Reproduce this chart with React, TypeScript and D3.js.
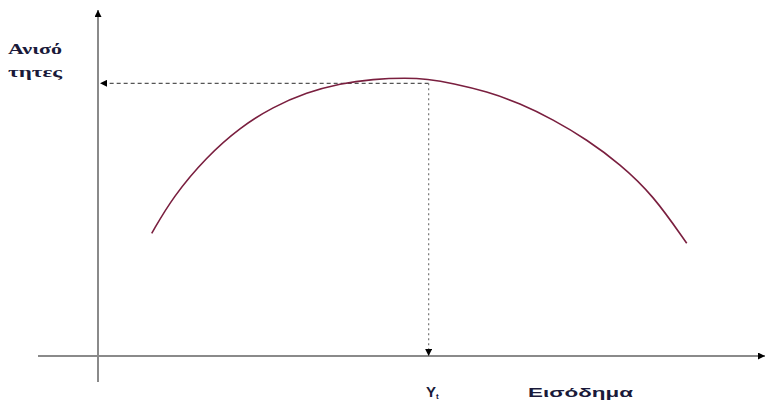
import React from "react";
import * as d3 from "d3";

const incomeValues = [8.14, 11.36, 16.47, 21.52, 26.52, 31.62, 36.67, 41.67, 46.77, 49.8, 53.79, 58.89, 63.94, 68.94, 74.05, 79.09, 84.09, 89.2];
const inequalityValues = [35.46, 46.04, 57.6, 66.07, 72.0, 76.18, 78.79, 80.03, 80.4, 80.06, 78.82, 76.45, 73.03, 68.35, 62.57, 55.49, 46.53, 32.57];
const peakIncome = [50.1];
const peakInequality = [78.8];
const yLabelLines = ["Ανισό", "τητες"];
const xLabel = "Εισόδημα";
const peakLabel = ["Y", "t"];

const W = 765;
const H = 409;

export default function App() {
  const x = d3.scaleLinear().domain([0, 100]).range([98, 758]);
  const y = d3.scaleLinear().domain([0, 100]).range([356, 10]);

  const pts: [number, number][] = incomeValues.map((v, i) => [v, inequalityValues[i]]);
  const line = d3
    .line<[number, number]>()
    .x((d) => x(d[0]))
    .y((d) => y(d[1]))
    .curve(d3.curveBasis);

  const px = x(peakIncome[0]);
  const py = y(peakInequality[0]);
  const x0 = x(0);
  const y0 = y(0);
  const serif = "'Liberation Serif', 'DejaVu Serif', serif";
  const sans = "'Liberation Sans', Arial, sans-serif";

  return (
    <svg
      width={W}
      height={H}
      style={{ position: "absolute", left: 0, top: 0, background: "#fff" }}
    >
      <defs>
        <marker id="arrHead" viewBox="0 0 10 10" refX="10" refY="5" markerWidth="7" markerHeight="7" orient="auto" markerUnits="userSpaceOnUse">
          <path d="M0,0 L10,5 L0,10 Z" fill="#000" />
        </marker>
      </defs>

      {/* axes */}
      <line x1={x0} y1={382} x2={x0} y2={10} stroke="#8a8a8a" strokeWidth={2} markerEnd="url(#arrHead)" />
      <line x1={38} y1={y0} x2={765} y2={y0} stroke="#8a8a8a" strokeWidth={2} markerEnd="url(#arrHead)" />

      {/* dashed guides */}
      <line x1={px} y1={py} x2={x0 + 2} y2={py} stroke="#555" strokeWidth={1.2} strokeDasharray="4,3" markerEnd="url(#arrHead)" />
      <line x1={px} y1={py} x2={px} y2={y0} stroke="#777" strokeWidth={1.2} strokeDasharray="2,3" markerEnd="url(#arrHead)" />

      {/* curve */}
      <path d={line(pts) || ""} fill="none" stroke="#7a1f3f" strokeWidth={1.6} />

      {/* labels */}
      <text x={8} y={54} fontFamily={serif} fontWeight="bold" fontSize={14} fill="#1a1a3a" textLength={54} lengthAdjust="spacingAndGlyphs">
        {yLabelLines[0]}
      </text>
      <text x={8} y={77} fontFamily={serif} fontWeight="bold" fontSize={14} fill="#1a1a3a" textLength={54} lengthAdjust="spacingAndGlyphs">
        {yLabelLines[1]}
      </text>
      <text x={426} y={397} fontFamily={sans} fontWeight="bold" fontSize={15} fill="#1a1a3a">
        {peakLabel[0]}
        <tspan fontSize={8} dy={2}>{peakLabel[1]}</tspan>
      </text>
      <text x={528} y={397} fontFamily={sans} fontWeight="bold" fontSize={13} fill="#1a1a3a" textLength={105} lengthAdjust="spacingAndGlyphs">
        {xLabel}
      </text>
    </svg>
  );
}
